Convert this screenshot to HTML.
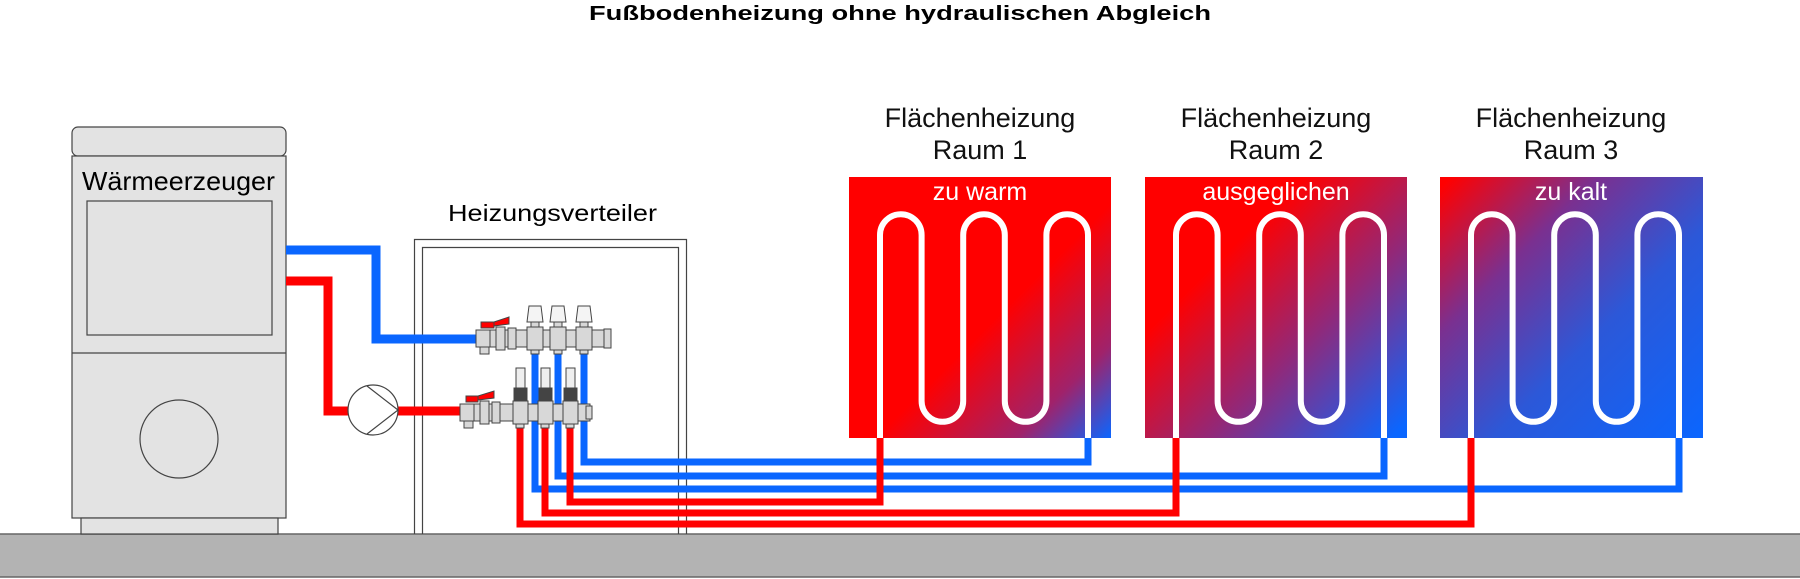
<!DOCTYPE html>
<html><head><meta charset="utf-8"><style>
html,body{margin:0;padding:0;background:#fff;}
svg{display:block;}
text{font-family:"Liberation Sans",Arial,sans-serif;}
</style></head><body>
<svg width="1800" height="579" viewBox="0 0 1800 579" xmlns="http://www.w3.org/2000/svg">
<defs>
<linearGradient id="g1" x1="0" y1="0" x2="1" y2="1">
<stop offset="0.55" stop-color="#ff0000"/><stop offset="0.82" stop-color="#a0226a"/><stop offset="1" stop-color="#0a66ff"/></linearGradient>
<linearGradient id="g2" x1="0" y1="0" x2="1" y2="1">
<stop offset="0.3" stop-color="#ff0000"/><stop offset="0.62" stop-color="#922878"/><stop offset="0.97" stop-color="#0a66ff"/></linearGradient>
<linearGradient id="g3" x1="0" y1="0" x2="1" y2="1">
<stop offset="0.02" stop-color="#ff0000"/><stop offset="0.3" stop-color="#7a3090"/><stop offset="0.6" stop-color="#2c58d8"/><stop offset="1" stop-color="#0a66ff"/></linearGradient>
</defs>

<text x="900" y="20" font-size="20" font-weight="bold" text-anchor="middle" textLength="622" lengthAdjust="spacingAndGlyphs">Fußbodenheizung ohne hydraulischen Abgleich</text>

<rect x="0" y="534" width="1800" height="43" fill="#b3b3b3"/>
<line x1="0" y1="534" x2="1800" y2="534" stroke="#666" stroke-width="1.5"/>
<line x1="0" y1="577" x2="1800" y2="577" stroke="#666" stroke-width="1.5"/>

<rect x="72" y="127" width="214" height="29" rx="6" fill="#e3e3e3" stroke="#444" stroke-width="1.2"/>
<rect x="72" y="156" width="214" height="362" fill="#e3e3e3" stroke="#444" stroke-width="1.2"/>
<line x1="72" y1="353" x2="286" y2="353" stroke="#444" stroke-width="1.2"/>
<rect x="87" y="201" width="185" height="134" fill="#e3e3e3" stroke="#444" stroke-width="1.2"/>
<rect x="81" y="518" width="197" height="16" fill="#e3e3e3" stroke="#444" stroke-width="1.2"/>
<circle cx="179" cy="439" r="39" fill="#e3e3e3" stroke="#444" stroke-width="1.2"/>
<text x="82" y="190" font-size="26" textLength="193" lengthAdjust="spacingAndGlyphs">Wärmeerzeuger</text>

<path d="M414.5 534 V239.5 H686.5 V534" fill="none" stroke="#444" stroke-width="1.2"/>
<path d="M422.5 534 V247.5 H678.5 V534" fill="none" stroke="#444" stroke-width="1.2"/>
<text x="448" y="221" font-size="23" textLength="209" lengthAdjust="spacingAndGlyphs">Heizungsverteiler</text>

<g fill="none" stroke-width="9" stroke-linejoin="miter">
<path d="M286 250 H376 V339 H476" stroke="#0a66ff"/>
<path d="M286 281 H328 V411 H460" stroke="#ff0000"/>
</g>
<circle cx="373" cy="410" r="25" fill="#fff" stroke="#444" stroke-width="1.2"/>
<path d="M367 386 L398 410 L367 434" fill="none" stroke="#444" stroke-width="1.2"/>

<g fill="none" stroke-width="7" stroke-linejoin="miter">
<path d="M584 345 V462 H1088 V437" stroke="#0a66ff"/>
<path d="M558 345 V476 H1384 V437" stroke="#0a66ff"/>
<path d="M535 345 V489 H1679 V437" stroke="#0a66ff"/>
<path d="M570 418 V502 H880 V437" stroke="#ff0000"/>
<path d="M545 418 V513 H1176 V437" stroke="#ff0000"/>
<path d="M520 418 V524 H1471 V437" stroke="#ff0000"/>
</g>

<g stroke="#444" stroke-width="1" fill="#d8d8d8">
<rect x="476" y="330" width="134" height="17"/>
<rect x="476" y="330" width="14" height="17"/>
<rect x="480" y="347" width="9" height="7"/>
<rect x="496" y="327" width="9" height="23"/>
<rect x="508" y="328" width="8" height="21"/>
<rect x="527" y="327" width="16" height="23"/>
<rect x="550" y="327" width="16" height="23"/>
<rect x="576" y="327" width="16" height="23"/>
<rect x="604" y="329" width="7" height="19"/>
<rect x="531" y="322" width="8" height="5"/>
<rect x="554" y="322" width="8" height="5"/>
<rect x="580" y="322" width="8" height="5"/>
<path d="M529 306 H541 L543 322 H527 Z" fill="#f4f4f4"/>
<path d="M552 306 H564 L566 322 H550 Z" fill="#f4f4f4"/>
<path d="M578 306 H590 L592 322 H576 Z" fill="#f4f4f4"/>
<rect x="531" y="350" width="8" height="4"/>
<rect x="554" y="350" width="8" height="4"/>
<rect x="580" y="350" width="8" height="4"/>
<path d="M481 322 H494 V328 H481 Z M494 322 L509 317 V324 L494 326 Z" fill="#ff0000"/>
</g>
<g stroke="#444" stroke-width="1" fill="#d8d8d8">
<rect x="460" y="404" width="130" height="17"/>
<rect x="460" y="404" width="14" height="17"/>
<rect x="464" y="421" width="9" height="7"/>
<rect x="480" y="401" width="9" height="23"/>
<rect x="492" y="402" width="8" height="21"/>
<rect x="513" y="401" width="15" height="23"/>
<rect x="538" y="401" width="15" height="23"/>
<rect x="563" y="401" width="15" height="23"/>
<rect x="586" y="406" width="6" height="13"/>
<rect x="514" y="388" width="13" height="13" fill="#444"/>
<rect x="539" y="388" width="13" height="13" fill="#444"/>
<rect x="564" y="388" width="13" height="13" fill="#444"/>
<rect x="516" y="368" width="9" height="20" fill="#eee"/>
<rect x="541" y="368" width="9" height="20" fill="#eee"/>
<rect x="566" y="368" width="9" height="20" fill="#eee"/>
<rect x="516" y="424" width="8" height="4"/>
<rect x="541" y="424" width="8" height="4"/>
<rect x="566" y="424" width="8" height="4"/>
<path d="M466 396 H478 V402 H466 Z M478 396 L494 391 V398 L478 400 Z" fill="#ff0000"/>
</g>

<rect x="849" y="177" width="262" height="261" fill="url(#g1)"/>
<rect x="1145" y="177" width="262" height="261" fill="url(#g2)"/>
<rect x="1440" y="177" width="263" height="261" fill="url(#g3)"/>
<g fill="none" stroke="#fff" stroke-width="6">
<path id="s1" d="M880 438 V235 A20.8 20.8 0 0 1 921.6 235 V401 A20.8 20.8 0 0 0 963.2 401 V235 A20.8 20.8 0 0 1 1004.8 235 V401 A20.8 20.8 0 0 0 1046.4 401 V235 A20.8 20.8 0 0 1 1088 235 V438"/>
<use href="#s1" x="296"/>
<use href="#s1" x="591"/>
</g>
<g font-size="25" fill="#fff" text-anchor="middle">
<text x="980" y="200">zu warm</text>
<text x="1276" y="200">ausgeglichen</text>
<text x="1571" y="200">zu kalt</text>
</g>
<g font-size="27" fill="#111" text-anchor="middle">
<text x="980" y="127">Flächenheizung</text><text x="980" y="159">Raum 1</text>
<text x="1276" y="127">Flächenheizung</text><text x="1276" y="159">Raum 2</text>
<text x="1571" y="127">Flächenheizung</text><text x="1571" y="159">Raum 3</text>
</g>
</svg>
</body></html>
